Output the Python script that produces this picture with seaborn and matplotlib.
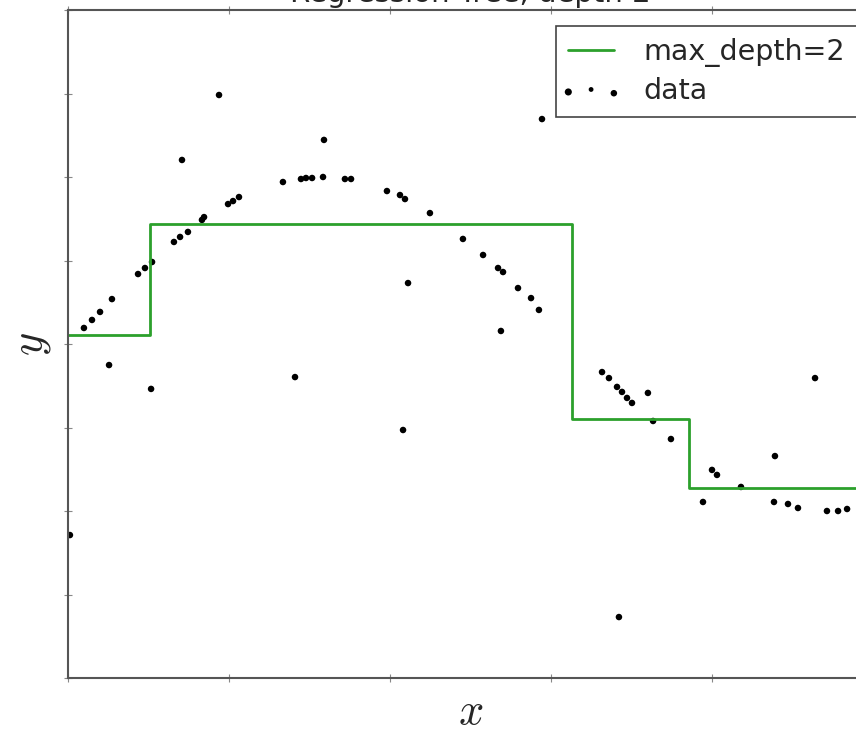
import matplotlib
matplotlib.use('Agg')
import matplotlib.pyplot as plt
from matplotlib.collections import PathCollection
from matplotlib.legend_handler import HandlerPathCollection
import seaborn as sns
import pandas as pd
import numpy as np

# data points
x_data = [0.012, 0.099, 0.149, 0.199, 0.255, 0.273, 0.435, 0.478, 0.516, 0.522,
          0.658, 0.696, 0.708, 0.745, 0.832, 0.845, 0.938, 0.994, 1.025, 1.062,
          1.335, 1.410, 1.447, 1.478, 1.516, 1.584, 1.590, 1.720, 1.758, 1.981,
          2.062, 2.093, 2.081, 2.112, 2.248, 2.453, 2.578, 2.671, 2.702, 2.689,
          2.795, 2.876, 2.925, 2.944, 3.317, 3.360, 3.410, 3.441, 3.472, 3.503,
          3.422, 3.602, 3.634, 3.745, 3.944, 4.000, 4.031, 4.180, 4.385, 4.391,
          4.472, 4.534, 4.640, 4.714, 4.783, 4.839]
y_data = [-1.144, 0.096, 0.144, 0.192, -0.126, 0.269, 0.419, 0.455, -0.269, 0.491,
          0.611, 0.641, 1.102, 0.671, 0.743, 0.760, 1.491, 0.838, 0.856, 0.880,
          0.970, -0.198, 0.988, 0.994, 0.994, 1.000, 1.222, 0.988, 0.988, 0.916,
          0.892, 0.868, -0.515, 0.365, 0.784, 0.629, 0.533, 0.455, 0.431, 0.078,
          0.335, 0.275, 0.204, 1.347, -0.168, -0.204, -0.257, -0.287, -0.323, -0.353,
          -1.635, -0.293, -0.461, -0.569, -0.946, -0.754, -0.784, -0.856, -0.946, -0.671,
          -0.958, -0.982, -0.204, -1.000, -1.000, -0.988]

# regression tree (max_depth=2) step prediction
step_edges = [0.0, 0.509, 3.130, 3.857, 5.0]
step_levels = [0.054, 0.719, -0.449, -0.862]

df_pts = pd.DataFrame({'x': x_data, 'y': y_data})
df_tree = pd.DataFrame({'x': step_edges, 'y': step_levels + [step_levels[-1]]})

sns.set_style('white')
plt.rcParams['font.family'] = ['DejaVu Sans']
plt.rcParams['mathtext.fontset'] = 'cm'

fig = plt.figure(figsize=(8.56, 7.3), dpi=100)
# axes run a bit past the right edge, like the cropped original
ax = fig.add_axes([68 / 856, 52 / 730, 805 / 856, 668 / 730])

sns.lineplot(data=df_tree, x='x', y='y', ax=ax, color='#2ca02c', lw=2,
             drawstyle='steps-post', sort=False, estimator=None, label='max_depth=2')
sns.scatterplot(data=df_pts, x='x', y='y', ax=ax, color='k', s=22,
                edgecolor='none', label='data')

ax.set_xlim(0, 5)
ax.set_ylim(-2, 2)
ax.set_xticks(np.arange(0, 5.01, 1))
ax.set_yticks(np.arange(-2, 2.01, 0.5))
ax.set_xticklabels([])
ax.set_yticklabels([])
ax.tick_params(direction='inout', length=6, width=0.8, color='#888888',
               top=True, right=True, bottom=True, left=True)
for sp in ax.spines.values():
    sp.set_color('#555555')
    sp.set_linewidth(1.5)

ax.set_xlabel('$x$', fontsize=32, labelpad=2)
ax.set_ylabel('$y$', fontsize=32, labelpad=4)
ax.set_title('Regression Tree, depth 2', fontsize=21)

leg = ax.legend(loc='upper right', fontsize=20.5, scatterpoints=3, fancybox=False,
                framealpha=1, edgecolor='#444444', handlelength=1.6,
                handletextpad=1.05, borderaxespad=0.55, borderpad=0.42,
                labelspacing=0.38,
                handler_map={PathCollection: HandlerPathCollection(marker_pad=0.0,
                                                                   sizes=[26, 12, 22])})
leg.get_frame().set_linewidth(1.2)

fig.savefig('out.png', dpi=100)
